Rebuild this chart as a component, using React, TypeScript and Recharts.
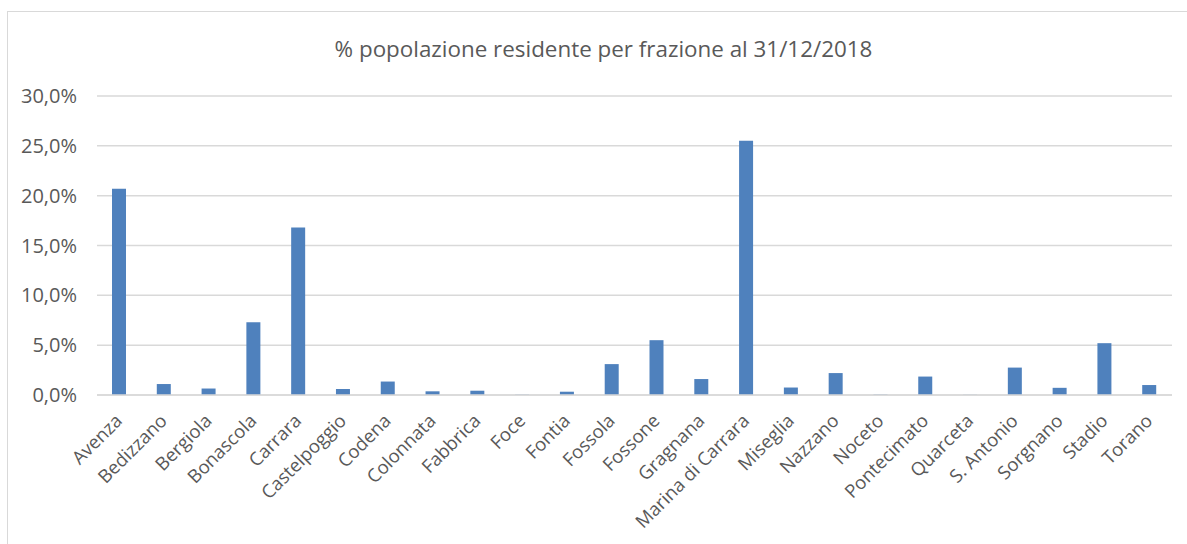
import { Bar, BarChart, CartesianGrid, XAxis, YAxis } from "recharts";

const frazioni = [
  "Avenza", "Bedizzano", "Bergiola", "Bonascola", "Carrara", "Castelpoggio",
  "Codena", "Colonnata", "Fabbrica", "Foce", "Fontia", "Fossola", "Fossone",
  "Gragnana", "Marina di Carrara", "Miseglia", "Nazzano", "Noceto",
  "Pontecimato", "Quarceta", "S. Antonio", "Sorgnano", "Stadio", "Torano",
];

// % of residents
const percentuali = [
  20.7, 1.1, 0.65, 7.3, 16.8, 0.6,
  1.35, 0.37, 0.43, 0.03, 0.33, 3.1, 5.5,
  1.6, 25.5, 0.75, 2.2, 0.04,
  1.85, 0.02, 2.75, 0.72, 5.2, 1.0,
];

const yTicks = [0, 5, 10, 15, 20, 25, 30];

const data = frazioni.map((name, i) => ({ name, value: percentuali[i] }));

const fmt = (v: number) => v.toFixed(1).replace(".", ",") + "%";

const font = "'Open Sans', sans-serif";
const textColor = "#595959";

// rotated category label, end of text sits just right of the bar, below the axis
function CategoryTick(props: any) {
  const { x, y, payload } = props;
  const tx = x + 4;
  const ty = y + 27;
  return (
    <text
      x={tx}
      y={ty}
      transform={`rotate(-45, ${tx}, ${ty})`}
      textAnchor="end"
      fill={textColor}
      fontSize={18.5}
      fontFamily={font}
    >
      {payload.value}
    </text>
  );
}

export default function App() {
  return (
    <div style={{ position: "absolute", left: 0, top: 0, width: 1187, height: 544, overflow: "hidden", background: "#fff" }}>
      <div style={{ position: "absolute", left: 7, top: 11, width: 1300, height: 700, border: "1px solid #d9d9d9" }} />
      <div style={{ position: "absolute", left: 0, top: 38, width: 1207, textAlign: "center", fontFamily: font, fontSize: 22.4, lineHeight: 1, color: textColor }}>
        % popolazione residente per frazione al 31/12/2018
      </div>
      <div style={{ position: "absolute", left: 0, top: 0 }}>
        <BarChart width={1187} height={544} data={data} margin={{ top: 96, right: 15, left: 37, bottom: 0 }} barSize={14}>
          <CartesianGrid vertical={false} stroke="#d9d9d9" strokeWidth={1.5} />
          <XAxis
            dataKey="name"
            interval={0}
            height={149}
            tickLine={false}
            tickSize={0}
            tickMargin={0}
            axisLine={{ stroke: "#d9d9d9", strokeWidth: 1.5 }}
            tick={<CategoryTick />}
          />
          <YAxis
            width={60}
            domain={[0, 30]}
            ticks={yTicks}
            tickFormatter={fmt}
            axisLine={false}
            tickLine={false}
            tickSize={0}
            tickMargin={20}
            tick={{ fill: textColor, fontSize: 20, fontFamily: font }}
          />
          <Bar dataKey="value" fill="#4f81bd" isAnimationActive={false} />
        </BarChart>
      </div>
    </div>
  );
}
